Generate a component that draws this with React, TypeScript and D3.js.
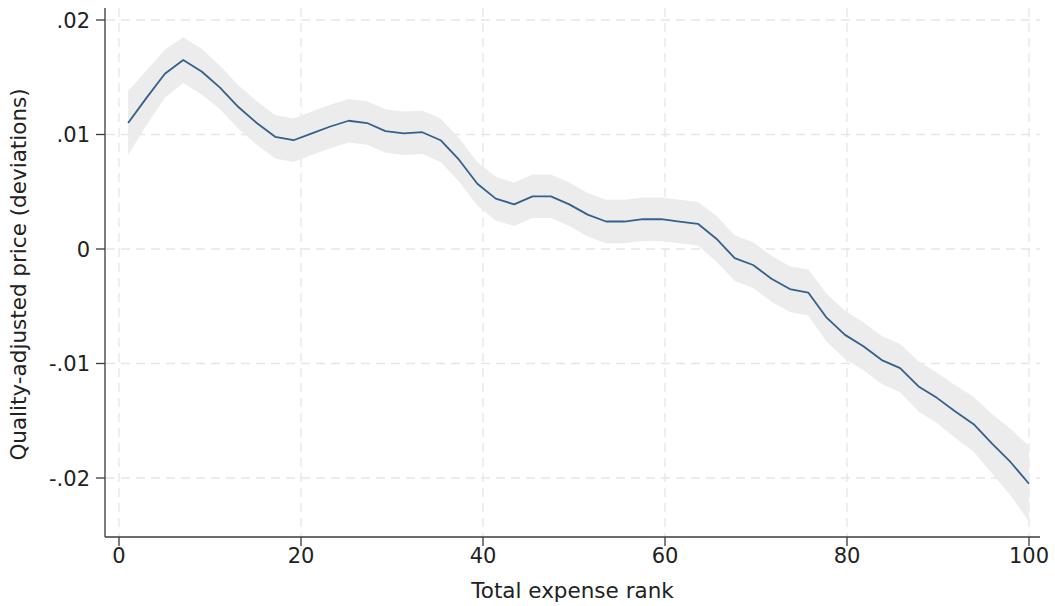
import React from "react";
import * as d3 from "d3";

const rank = [1, 3.02, 5.04, 7.06, 9.08, 11.1, 13.12, 15.14, 17.16, 19.18, 21.2, 23.22, 25.24, 27.26, 29.28, 31.3, 33.32, 35.34, 37.36, 39.38, 41.4, 43.42, 45.44, 47.46, 49.48, 51.5, 53.52, 55.54, 57.56, 59.58, 61.6, 63.62, 65.64, 67.66, 69.68, 71.7, 73.72, 75.74, 77.76, 79.78, 81.8, 83.82, 85.84, 87.86, 89.88, 91.9, 93.92, 95.94, 97.96, 100];

const price = [0.0110, 0.0132, 0.0153, 0.0165, 0.0155, 0.0141, 0.0124, 0.0110, 0.0098, 0.0095, 0.0101, 0.0107, 0.0112, 0.0110, 0.0103, 0.0101, 0.0102, 0.0095, 0.0078, 0.0057, 0.0044, 0.0039, 0.0046, 0.0046, 0.0039, 0.0030, 0.0024, 0.0024, 0.0026, 0.0026, 0.0024, 0.0022, 0.0009, -0.0008, -0.0014, -0.0026, -0.0035, -0.0038, -0.0060, -0.0075, -0.0085, -0.0097, -0.0104, -0.0120, -0.0130, -0.0142, -0.0153, -0.0170, -0.0186, -0.0205];

const upper = [0.0138, 0.0156, 0.0174, 0.0185, 0.0175, 0.0160, 0.0143, 0.0129, 0.0117, 0.0114, 0.0120, 0.0126, 0.0131, 0.0129, 0.0122, 0.0120, 0.0121, 0.0114, 0.0097, 0.0076, 0.0063, 0.0058, 0.0065, 0.0065, 0.0058, 0.0049, 0.0043, 0.0043, 0.0045, 0.0045, 0.0043, 0.0041, 0.0029, 0.0012, 0.0006, -0.0006, -0.0015, -0.0018, -0.0039, -0.0054, -0.0064, -0.0076, -0.0083, -0.0098, -0.0108, -0.0119, -0.0129, -0.0144, -0.0157, -0.0172];

const lower = [0.0082, 0.0108, 0.0132, 0.0145, 0.0135, 0.0122, 0.0105, 0.0091, 0.0079, 0.0076, 0.0082, 0.0088, 0.0093, 0.0091, 0.0084, 0.0082, 0.0083, 0.0076, 0.0059, 0.0038, 0.0025, 0.0020, 0.0027, 0.0027, 0.0020, 0.0011, 0.0005, 0.0005, 0.0007, 0.0007, 0.0005, 0.0003, -0.0011, -0.0028, -0.0034, -0.0046, -0.0055, -0.0058, -0.0081, -0.0096, -0.0106, -0.0118, -0.0125, -0.0142, -0.0152, -0.0165, -0.0177, -0.0196, -0.0215, -0.0238];

const xTicks = [0, 20, 40, 60, 80, 100];
const xTickLabels = ["0", "20", "40", "60", "80", "100"];
const yTicks = [0.02, 0.01, 0, -0.01, -0.02];
const yTickLabels = [".02", ".01", "0", "-.01", "-.02"];

const xTitle = "Total expense rank";
const yTitle = "Quality-adjusted price (deviations)";

const W = 1055;
const H = 606;
const plotLeft = 105;
const plotRight = 1040;
const plotTop = 8;
const plotBottom = 537;

export default function App() {
  const x = d3.scaleLinear().domain([0, 100]).range([119, 1029]);
  const y = d3.scaleLinear().domain([-0.02, 0.02]).range([478, 20]);

  const rows = rank.map((r, i) => ({ r, m: price[i], lo: lower[i], hi: upper[i] }));

  const area = d3
    .area<any>()
    .x((d) => x(d.r))
    .y0((d) => y(d.lo))
    .y1((d) => y(d.hi));
  const line = d3
    .line<any>()
    .x((d) => x(d.r))
    .y((d) => y(d.m));

  const font = "DejaVu Sans, sans-serif";
  const gridColor = "#e6e6e6";
  const axisColor = "#3a3a3a";
  const textColor = "#222";

  return (
    <svg
      width={W}
      height={H}
      style={{ position: "absolute", left: 0, top: 0, display: "block", background: "#fff" }}
    >
      <rect x={0} y={0} width={W} height={H} fill="#fff" />
      {/* grid */}
      {yTicks.map((t, i) => (
        <line
          key={"gy" + i}
          x1={plotLeft + 1}
          x2={plotRight}
          y1={y(t)}
          y2={y(t)}
          stroke={gridColor}
          strokeWidth={1.3}
          strokeDasharray="9,6"
        />
      ))}
      {xTicks.map((t, i) => (
        <line
          key={"gx" + i}
          x1={x(t)}
          x2={x(t)}
          y1={plotTop}
          y2={plotBottom - 1}
          stroke={gridColor}
          strokeWidth={1.3}
          strokeDasharray="9,6"
        />
      ))}
      {/* band */}
      <path d={area(rows) || ""} fill="#ebebeb" fillOpacity={0.95} />
      {/* line */}
      <path d={line(rows) || ""} fill="none" stroke="#33608c" strokeWidth={1.8} strokeLinejoin="round" />

      {/* axes */}
      <line x1={plotLeft} x2={plotLeft} y1={plotTop} y2={plotBottom} stroke={axisColor} strokeWidth={1.3} />
      <line x1={plotLeft} x2={plotRight} y1={plotBottom} y2={plotBottom} stroke={axisColor} strokeWidth={1.3} />

      {yTicks.map((t, i) => (
        <g key={"yt" + i}>
          <line x1={plotLeft - 9} x2={plotLeft} y1={y(t)} y2={y(t)} stroke={axisColor} strokeWidth={1.3} />
          <text
            x={plotLeft - 15}
            y={y(t)}
            dy="0.36em"
            textAnchor="end"
            fontFamily={font}
            fontSize={21}
            fill={textColor}
          >
            {yTickLabels[i]}
          </text>
        </g>
      ))}
      {xTicks.map((t, i) => (
        <g key={"xt" + i}>
          <line x1={x(t)} x2={x(t)} y1={plotBottom} y2={plotBottom + 9} stroke={axisColor} strokeWidth={1.3} />
          <text
            x={x(t)}
            y={plotBottom + 26}
            textAnchor="middle"
            fontFamily={font}
            fontSize={21}
            fill={textColor}
          >
            {xTickLabels[i]}
          </text>
        </g>
      ))}

      <text
        x={(plotLeft + plotRight) / 2}
        y={598}
        textAnchor="middle"
        fontFamily={font}
        fontSize={21.5}
        fill={textColor}
      >
        {xTitle}
      </text>
      <text
        transform={`translate(26, ${(plotTop + plotBottom) / 2 + 2}) rotate(-90)`}
        textAnchor="middle"
        fontFamily={font}
        fontSize={21.5}
        fill={textColor}
      >
        {yTitle}
      </text>
    </svg>
  );
}
